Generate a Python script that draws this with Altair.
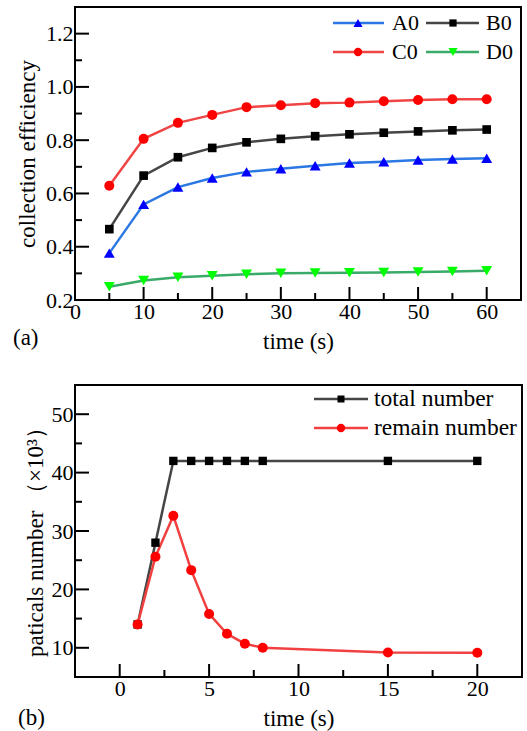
import altair as alt
import pandas as pd

# ---- panel (a): collection efficiency vs time ----
time_a = [5, 10, 15, 20, 25, 30, 35, 40, 45, 50, 55, 60]
eff_a0 = [0.376, 0.559, 0.624, 0.658, 0.681, 0.693, 0.704, 0.714, 0.719, 0.726, 0.729, 0.732]
eff_b0 = [0.466, 0.667, 0.736, 0.771, 0.792, 0.805, 0.815, 0.822, 0.828, 0.833, 0.837, 0.840]
eff_c0 = [0.629, 0.805, 0.865, 0.895, 0.924, 0.931, 0.939, 0.941, 0.946, 0.951, 0.954, 0.954]
eff_d0 = [0.250, 0.273, 0.285, 0.291, 0.297, 0.300, 0.301, 0.302, 0.303, 0.305, 0.307, 0.310]
series_a = ["A0", "B0", "C0", "D0"]

xa_major = [10, 20, 30, 40, 50, 60]
xa_minor = [5, 15, 25, 35, 45, 55]
xa_labels = [0, 10, 20, 30, 40, 50, 60]
ya_major = [0.4, 0.6, 0.8, 1.0, 1.2]
ya_minor = [0.3, 0.5, 0.7, 0.9, 1.1]
ya_labels = [0.2, 0.4, 0.6, 0.8, 1.0, 1.2]

# ---- panel (b): particle counts vs time ----
time_b = [1, 2, 3, 4, 5, 6, 7, 8, 15, 20]
total_num = [14, 28, 42, 42, 42, 42, 42, 42, 42, 42]
remain_num = [14, 25.6, 32.6, 23.3, 15.8, 12.4, 10.7, 10.0, 9.2, 9.15]
series_b = ["total number", "remain number"]

xb_major = [0, 5, 10, 15, 20]
xb_minor = [2.5, 7.5, 12.5, 17.5]
yb_major = [10, 20, 30, 40, 50]
yb_minor = [15, 25, 35, 45]

FONT = "'Liberation Serif', 'Times New Roman', 'DejaVu Serif', serif"

# styles
line_a = {"A0": "#2b78e4", "B0": "#454545", "C0": "#f04545", "D0": "#3aaa68"}
mark_a = {"A0": "#0000ff", "B0": "#000000", "C0": "#ff0000", "D0": "#00ff00"}
shape_a = {"A0": "triangle-up", "B0": "square", "C0": "circle", "D0": "triangle-down"}
size_a = {"A0": 120, "B0": 75, "C0": 100, "D0": 120}
line_b = {"total number": "#454545", "remain number": "#f04040"}
mark_b = {"total number": "#000000", "remain number": "#ff0000"}
shape_b = {"total number": "square", "remain number": "circle"}
size_b = {"total number": 70, "remain number": 100}

df_a = pd.DataFrame({
    "time": time_a * 4,
    "value": eff_a0 + eff_b0 + eff_c0 + eff_d0,
    "series": sum([[s] * len(time_a) for s in series_a], []),
})
df_b = pd.DataFrame({
    "time": time_b * 2,
    "value": total_num + remain_num,
    "series": sum([[s] * len(time_b) for s in series_b], []),
})


def panel(df, series, lcol, mcol, shp, siz, xdom, ydom, w, h,
          xlabels, ylabels, yfmt, xmaj, xmin, ymaj, ymin,
          ytitle, ytitle_x, ytitle_y, legend_spec, tag, tag_x, tag_y):
    xs = alt.Scale(domain=xdom, nice=False, zero=False)
    ys = alt.Scale(domain=ydom, nice=False, zero=False)
    x_axis = alt.Axis(values=xlabels, format="d", ticks=False, domain=False, grid=False,
                      labelPadding=1, labelFlush=False, title="time (s)", titleX=w / 2,
                      titleY=41, titleAlign="center", titleBaseline="middle")
    y_axis = alt.Axis(values=ylabels, format=yfmt, ticks=False, domain=False, grid=False,
                      labelPadding=2, labelFlush=False, title=ytitle, titleX=ytitle_x,
                      titleY=ytitle_y, titleAngle=270, titleAlign="center",
                      titleBaseline="middle")

    def X(field):
        return alt.X(field, scale=xs, axis=x_axis)

    def Y(field):
        return alt.Y(field, scale=ys, axis=y_axis)

    lines, pts = [], []
    for s in series:
        sub = alt.Chart(df).transform_filter(alt.datum.series == s)
        lines.append(sub.mark_line(strokeWidth=2.5, color=lcol[s]).encode(
            x=X("time:Q"), y=Y("value:Q")))
        pts.append(sub.mark_point(shape=shp[s], size=siz[s], filled=True, opacity=1,
                                  color=mcol[s]).encode(x=X("time:Q"), y=Y("value:Q")))

    def xticks(vals, ln):
        return alt.Chart(pd.DataFrame({"time": vals})).mark_rule(
            color="black", strokeWidth=2).encode(
            x=X("time:Q"), y=alt.value(h), y2=alt.value(h - ln))

    def yticks(vals, ln):
        return alt.Chart(pd.DataFrame({"value": vals})).mark_rule(
            color="black", strokeWidth=2).encode(
            y=Y("value:Q"), x=alt.value(0), x2=alt.value(ln))

    ticks = [xticks(xmaj, 13), xticks(xmin, 7), yticks(ymaj, 14), yticks(ymin, 7)]

    # legend drawn in the plot's pixel space
    leg = []
    for (s, lx0, lx1, mx, tx, ty, fs) in legend_spec:
        one = alt.Chart(pd.DataFrame({"s": [s]}))
        leg.append(one.mark_rule(color=lcol[s], strokeWidth=2.5).encode(
            x=alt.value(lx0), x2=alt.value(lx1), y=alt.value(ty)))
        leg.append(one.mark_point(shape=shp[s], size=siz[s] * 0.7, filled=True, opacity=1,
                                  color=mcol[s]).encode(x=alt.value(mx), y=alt.value(ty)))
        leg.append(one.mark_text(align="left", baseline="middle", font=FONT, fontSize=fs,
                                 color="black").encode(
            x=alt.value(tx), y=alt.value(ty), text="s:N"))

    label = alt.Chart(pd.DataFrame({"s": [tag]})).mark_text(
        align="left", baseline="middle", font=FONT, fontSize=23, color="black").encode(
        x=alt.value(tag_x), y=alt.value(tag_y), text="s:N")

    return alt.layer(*lines, *pts, *ticks, *leg, label).properties(width=w, height=h)


legend_a = [
    ("A0", 258, 309, 283, 317, 16, 22),
    ("B0", 351, 404, 378, 411, 16, 22),
    ("C0", 258, 309, 283, 317, 45, 22),
    ("D0", 351, 404, 378, 411, 45, 22),
]
legend_b = [
    ("total number", 239, 293, 266, 299, 14, 23.5),
    ("remain number", 239, 293, 266, 299, 43, 23.5),
]

chart_a = panel(df_a, series_a, line_a, mark_a, shape_a, size_a, [0, 65], [0.2, 1.3], 446, 293,
                xa_labels, ya_labels, ".1f", xa_major, xa_minor, ya_major, ya_minor,
                "collection efficiency", -48, 146.5, legend_a, "(a)", -62, 331)
chart_b = panel(df_b, series_b, line_b, mark_b, shape_b, size_b, [-2.5, 22.5], [5, 55], 447, 292,
                xb_major, yb_major, "d", xb_major, xb_minor, yb_major, yb_minor,
                "paticals number （×10³）", -40, 151, legend_b, "(b)", -57, 333)

chart = alt.vconcat(chart_a, chart_b, spacing=85, bounds="flush").properties(
    padding={"left": 12, "top": 6, "right": 0, "bottom": 0},
    background="white",
).configure_view(
    stroke="black", strokeWidth=2
).configure_axis(
    labelFont=FONT, labelFontSize=22, labelColor="black",
    titleFont=FONT, titleFontSize=23, titleColor="black", titleFontWeight="normal",
)

chart.save("out.html", embed_options={"renderer": "svg", "actions": False})
